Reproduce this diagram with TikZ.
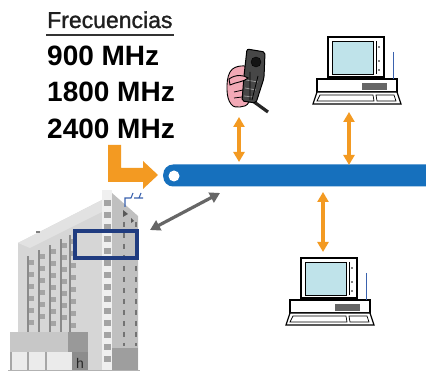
\documentclass[tikz,border=0pt]{standalone}
\usepackage{fontspec}
\setmainfont{Liberation Sans}
\usetikzlibrary{arrows.meta}
\definecolor{lanblue}{HTML}{1670BD}
\definecolor{arroworange}{HTML}{F39A22}
\definecolor{arrowgray}{HTML}{666666}
\definecolor{screenblue}{HTML}{BFE3EA}
\definecolor{aerialblue}{HTML}{3A62AE}
\definecolor{navy}{HTML}{203C80}
\definecolor{skin}{HTML}{F2A9B6}
\definecolor{facefront}{HTML}{D6D6D6}
\definecolor{faceroof}{HTML}{E2E2E2}
\definecolor{faceside}{HTML}{C0C0C0}
\definecolor{winline}{HTML}{8A8A8A}
\definecolor{winblock}{HTML}{A4A4A4}
\tikzset{
  holder/.style={inner sep=0pt, minimum width=#1},
  oarrow/.style={draw=arroworange, line width=3.2pt,
    {Triangle[width=11pt,length=10pt]}-{Triangle[width=11pt,length=10pt]}},
  garrow/.style={draw=arrowgray, line width=3.2pt,
    {Triangle[width=11pt,length=10pt]}-{Triangle[width=11pt,length=10pt]}},
  freqlabel/.style={anchor=base west, inner sep=0pt, font=\fontsize{28}{28}\selectfont\bfseries},
  pc/.pic={
    \draw[line width=1.2pt, fill=white] (0,0) rectangle (56,40);
    \draw[line width=0.8pt, fill=screenblue] (4,4) rectangle (45,37);
    \draw[line width=0.8pt] (48,4) -- (48,37);
    \fill (51,10) circle (0.9) (51,24) circle (0.9) (51,33) circle (0.9);
    \fill (22,40) rectangle (36,42);
    \draw[line width=1.2pt, fill=white] (-11,42) rectangle (69,55);
    \fill[black!60] (34,46) rectangle (59,53);
    \draw[line width=1.2pt, fill=white] (-11,55) -- (69,55) -- (73,67) -- (-15,67) -- cycle;
    \draw[line width=0.7pt] (-8,58) -- (45,58) -- (46,64) -- (-11,64) -- cycle;
    \draw[line width=0.7pt] (48,58) -- (66,58) -- (68,64) -- (49,64) -- cycle;
    \draw[aerialblue, line width=1pt] (65,15) -- (65,42);
  }
}
\begin{document}
\begin{tikzpicture}[x=1pt,y=-1pt]
\useasboundingbox[fill=white] (0,0) rectangle (426,371);

% frequency list
\node[anchor=base west, inner sep=0pt, text=black!88,
  font=\fontsize{23}{23}\selectfont\addfontfeature{FakeBold=1.2}] (title) at (47,28) {Frecuencias};
\draw[line width=1.6pt, black!80] (46,35) -- (174,35);
\node[freqlabel] (f1) at (47,66) {900 MHz};
\node[freqlabel] (f2) at (47,102) {1800 MHz};
\node[freqlabel] (f3) at (47,139) {2400 MHz};

% network backbone
\node[fill=lanblue, rounded corners=10pt, minimum width=275pt, minimum height=22pt,
  anchor=west, inner sep=0pt] (lan) at (163,175.5) {};
\fill[white] (174,176) circle (5.5);

% bent orange pointer onto the backbone
\fill[arroworange] (108,145) -- (121,145) -- (121,168) -- (143,168) -- (143,161)
  -- (158,175) -- (143,189) -- (143,182) -- (108,182) -- cycle;

% handset held in a hand
\node[holder=46pt, minimum height=66pt] (phone) at (247,80) {};
\filldraw[fill=skin, line width=0.9pt] plot[smooth cycle, tension=0.7]
  coordinates {(230,72) (241,66) (249,70) (250,86) (249,102) (240,107) (231,104) (227,90)};
\draw[line width=3.2pt, black!85] (250,99) -- (268,112);
\filldraw[fill=black!72, line width=1pt, rounded corners=2pt]
  (247,49) -- (265,52) -- (264,78) -- (256,103) -- (242,101) -- (244,76) -- cycle;
\filldraw[fill=black!92, draw=black] (256,62) circle (5);
\draw[black!40, line width=0.8pt] (246,80) -- (258,82) (245,88) -- (256,90) (244,96) -- (253,97);
\draw[black, line width=0.8pt] (250,72) -- (250,100) (258,76) -- (252,100);
\filldraw[fill=skin, line width=0.9pt] (229,79) .. controls (236,74) and (244,75) .. (248,78)
  .. controls (244,82) and (236,82) .. (230,85) -- cycle;
\draw[line width=0.8pt] (234,92) -- (243,90) (234,98) -- (242,97);

% desktop stations
\node[holder=88pt, minimum height=70pt] (toppc) at (356,71) {};
\pic at (328,37) {pc};
\node[holder=86pt, minimum height=70pt] (botpc) at (329,292) {};
\pic at (301,258) {pc};

% building
\node[holder=130pt, minimum height=180pt] (hotel) at (75,281) {};
\fill[facefront] (18,243) -- (102,200) -- (102,371) -- (18,371) -- cycle;
\fill[faceroof] (18,243) -- (102,200) -- (102,212) -- (30,248) -- cycle;
\fill[black!50] (36,231) rectangle (40,233);
\foreach \x in {27,38,49,60,69} {
  \pgfmathsetmacro{\top}{256-0.5*(\x-27)}
  \fill[winline] (\x,\top) rectangle (\x+2,332);
  \foreach \y in {0,...,7} {
    \pgfmathsetmacro{\yy}{\top+4+\y*12}
    \ifdim\yy pt<326pt \fill[winblock] (\x+2,\yy) rectangle (\x+7,\yy+5);\fi
  }
}
% corner tower
\fill[black!6] (102,190) rectangle (112,371);
\foreach \y in {200,212,...,356} \fill[winblock] (103.5,\y) rectangle (110.5,\y+6);
% side face
\fill[faceside] (112,193) -- (138,216) -- (138,371) -- (112,371) -- cycle;
\fill[black!38] (112,348) rectangle (138,371);
\foreach \x in {124,136} \draw[black!55, line width=1.3pt, dash pattern=on 5pt off 6pt] (\x,222) -- (\x,346);
\fill[black!65] (123,210) -- (128,214) -- (123,217) -- cycle;
\fill[black!65] (131,218) -- (134,221) -- (131,223) -- cycle;
% rooftop aerial
\draw[aerialblue, line width=1.1pt] (125,207) -- (125,198) -- (131,198) -- (133,193)
  (134,198) -- (139,198) -- (141,193) (139,198) -- (143,198);
% podium
\fill[black!22] (10,332) rectangle (68,352);
\fill[black!40] (68,332) rectangle (88,352);
\fill[black!8] (10,352) rectangle (72,371);
\foreach \x in {10,27,45} \fill[black!35] (\x,352) rectangle (\x+2,371);
\fill[black!45] (72,352) rectangle (88,371);
\node[inner sep=0pt, font=\fontsize{14}{14}\selectfont, text=black!85] (hsign) at (80,363) {h};
\draw[black!30, line width=0.8pt] (8,370) -- (140,370);
% highlighted floor
\draw[navy, line width=3.5pt] (75,231) rectangle (137,258);

% links
\draw[garrow] (150,230) -- (220,193);
\draw[oarrow] (239,117) -- (239,162);
\draw[oarrow] (349,112) -- (349,165);
\draw[oarrow] (323,192) -- (323,252);
\end{tikzpicture}
\end{document}
